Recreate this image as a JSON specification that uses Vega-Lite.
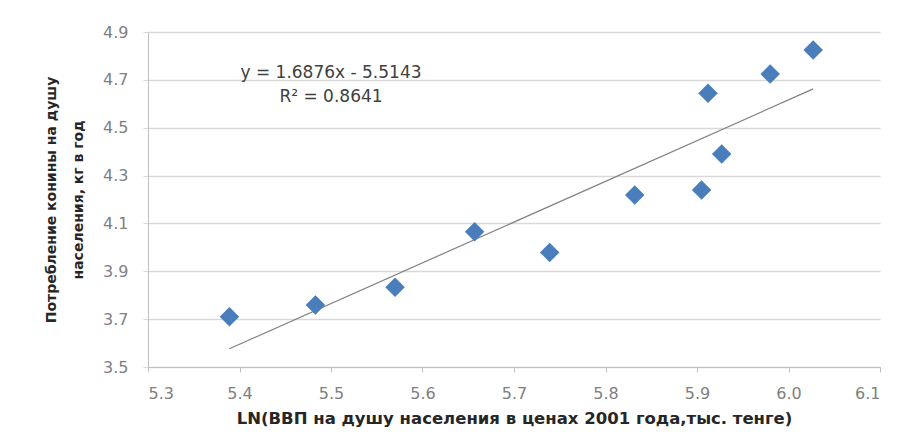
{
  "$schema": "https://vega.github.io/schema/vega-lite/v6.json",
  "width": 732,
  "height": 335,
  "autosize": {"type": "none"},
  "padding": {"left": 148, "top": 32, "right": 26, "bottom": 78},
  "background": "white",
  "config": {"view": {"stroke": null}, "font": "DejaVu Sans"},
  "datasets": {
    "points": [
      {"ln_gdp": 5.389, "meat": 3.710},
      {"ln_gdp": 5.483, "meat": 3.759},
      {"ln_gdp": 5.570, "meat": 3.833},
      {"ln_gdp": 5.657, "meat": 4.065},
      {"ln_gdp": 5.739, "meat": 3.979},
      {"ln_gdp": 5.832, "meat": 4.219},
      {"ln_gdp": 5.905, "meat": 4.240},
      {"ln_gdp": 5.927, "meat": 4.390},
      {"ln_gdp": 5.912, "meat": 4.644},
      {"ln_gdp": 5.980, "meat": 4.724},
      {"ln_gdp": 6.027, "meat": 4.825}
    ],
    "notes": [
      {"ln_gdp": 5.5, "meat": 4.729, "label": "y = 1.6876x - 5.5143"},
      {"ln_gdp": 5.5, "meat": 4.628, "label": "R² = 0.8641"}
    ]
  },
  "layer": [
    {
      "data": {"name": "points"},
      "transform": [{"regression": "meat", "on": "ln_gdp"}],
      "mark": {"type": "line", "color": "#808080", "strokeWidth": 1.2},
      "encoding": {
        "x": {"field": "ln_gdp", "type": "quantitative", "scale": {"domain": [5.3, 6.1], "nice": false, "zero": false}},
        "y": {"field": "meat", "type": "quantitative", "scale": {"domain": [3.5, 4.9], "nice": false, "zero": false}}
      }
    },
    {
      "data": {"name": "points"},
      "mark": {"type": "point", "shape": "diamond", "filled": true, "size": 380, "color": "#4a7ebb", "opacity": 1},
      "encoding": {
        "x": {
          "field": "ln_gdp", "type": "quantitative",
          "scale": {"domain": [5.3, 6.1], "nice": false, "zero": false},
          "axis": {
            "values": [5.3, 5.4, 5.5, 5.6, 5.7, 5.8, 5.9, 6.0, 6.1],
            "format": ".1f",
            "grid": false,
            "domainColor": "#bfbfbf",
            "tickColor": "#bfbfbf",
            "tickSize": 5,
            "labelFont": "DejaVu Sans",
            "labelFontSize": 16,
            "labelColor": "#7f7f7f",
            "labelPadding": 13,
            "title": "LN(ВВП на душу населения в ценах 2001 года,тыс. тенге)",
            "titleFont": "DejaVu Sans",
            "titleFontSize": 16.5,
            "titleFontWeight": "bold",
            "titleColor": "#262626",
            "titlePadding": 9
          }
        },
        "y": {
          "field": "meat", "type": "quantitative",
          "scale": {"domain": [3.5, 4.9], "nice": false, "zero": false},
          "axis": {
            "values": [3.5, 3.7, 3.9, 4.1, 4.3, 4.5, 4.7, 4.9],
            "format": ".1f",
            "grid": true,
            "gridColor": "#d9d9d9",
            "gridWidth": 1.5,
            "domainColor": "#bfbfbf",
            "tickColor": "#d9d9d9",
            "tickSize": 5,
            "labelFont": "DejaVu Sans",
            "labelFontSize": 16,
            "labelColor": "#7f7f7f",
            "labelPadding": 15,
            "title": ["Потребление конины на душу", "населения, кг в год"],
            "titleFont": "DejaVu Sans",
            "titleFontSize": 14,
            "titleFontWeight": "bold",
            "titleColor": "#262626",
            "titleLineHeight": 27,
            "titlePadding": 17
          }
        }
      }
    },
    {
      "data": {"name": "notes"},
      "mark": {"type": "text", "font": "DejaVu Sans", "fontSize": 17, "color": "#404040", "align": "center", "baseline": "middle"},
      "encoding": {
        "x": {"field": "ln_gdp", "type": "quantitative"},
        "y": {"field": "meat", "type": "quantitative"},
        "text": {"field": "label", "type": "nominal"}
      }
    }
  ]
}
